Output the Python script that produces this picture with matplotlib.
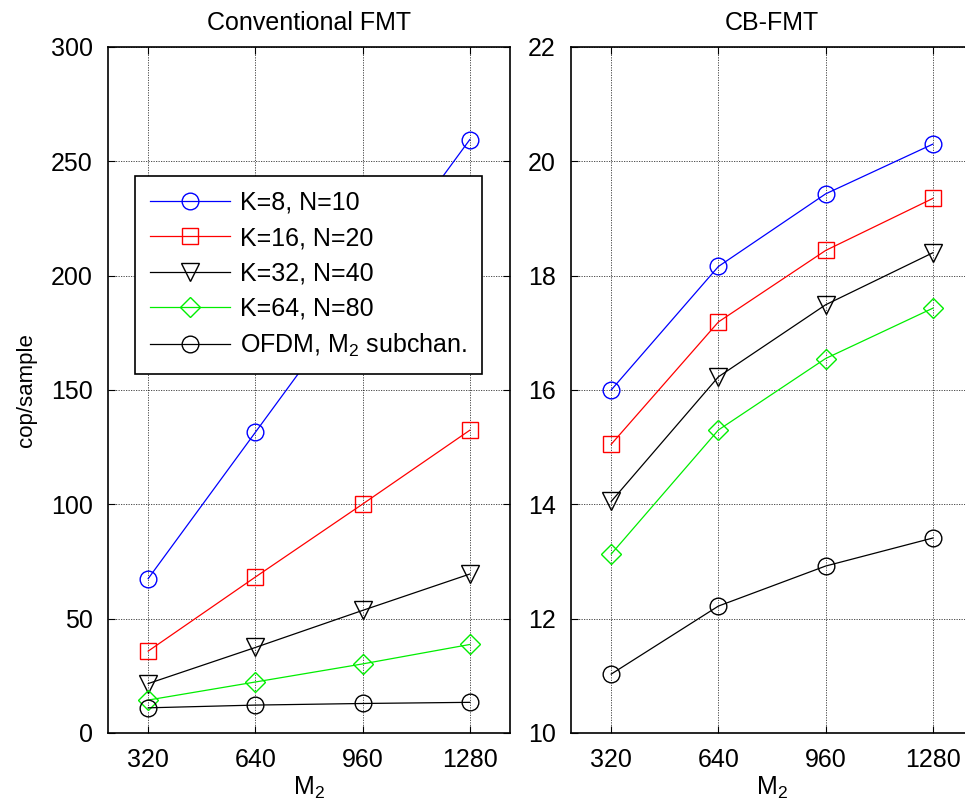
# Computational cost per sample: conventional FMT vs. CB-FMT.

import matplotlib
matplotlib.use("Agg")
import matplotlib.pyplot as plt

M2 = [320, 640, 960, 1280]
LABELS = ["K=8, N=10", "K=16, N=20", "K=32, N=40", "K=64, N=80", "OFDM, M$_2$ subchan."]

conv_k8 = [67.5, 131.5, 195.5, 259.5]
conv_k16 = [35.8, 68.2, 100.1, 132.4]
conv_k32 = [21.6, 37.4, 53.6, 69.5]
conv_k64 = [14.4, 22.3, 30.2, 38.7]
conv_ofdm = [11.0, 12.2, 12.9, 13.4]

cb_k8 = [16.0, 18.16, 19.43, 20.30]
cb_k16 = [15.05, 17.19, 18.44, 19.35]
cb_k32 = [14.05, 16.23, 17.49, 18.40]
cb_k64 = [13.13, 15.30, 16.55, 17.43]
cb_ofdm = [11.03, 12.22, 12.92, 13.41]

STYLES = [("blue", "o"), ("red", "s"), ("black", "v"), ("#00ee00", "D"), ("black", "o")]
SIZES = [12, 12, 13, 10, 12]

plt.rcParams["font.family"] = ["Liberation Sans", "DejaVu Sans"]
plt.rcParams["mathtext.default"] = "regular"


def draw(ax, series, ylim, yticks, title):
    for ys, (col, mk), ms, lab in zip(series, STYLES, SIZES, LABELS):
        ax.plot(M2, ys, color=col, marker=mk, markersize=ms,
                markerfacecolor="none", markeredgecolor=col,
                markeredgewidth=1.0, linewidth=0.9, label=lab)
    ax.set_xlim(200, 1400)
    ax.set_ylim(*ylim)
    ax.set_xticks(M2)
    ax.set_yticks(yticks)
    ax.grid(True, color="black", linestyle=(0, (1.5, 1.5)), linewidth=0.6, alpha=0.8)
    ax.tick_params(direction="in", length=5, labelsize=18, top=True, right=True, pad=11)
    for sp in ax.spines.values():
        sp.set_linewidth(1.2)
    ax.set_title(title, fontsize=18, pad=12)
    ax.set_xlabel("M$_2$", fontsize=18, labelpad=2)


fig = plt.figure(figsize=(9.65, 8.11), dpi=100)
ax1 = fig.add_axes([0.1119, 0.0962, 0.4166, 0.8459])
ax2 = fig.add_axes([571 / 965, 0.0962, 0.4166, 0.8459])

draw(ax1, [conv_k8, conv_k16, conv_k32, conv_k64, conv_ofdm],
     (0, 300), range(0, 301, 50), "Conventional FMT")
draw(ax2, [cb_k8, cb_k16, cb_k32, cb_k64, cb_ofdm],
     (10, 22), range(10, 23, 2), "CB-FMT")

ax1.set_ylabel("cop/sample", fontsize=16, labelpad=10)
leg = ax1.legend(loc="upper left", bbox_to_anchor=(0.067, 0.812), borderaxespad=0,
                 fontsize=18, fancybox=False, framealpha=1, edgecolor="black",
                 handlelength=3.2, labelspacing=0.45, borderpad=0.6, handletextpad=0.4)
leg.get_frame().set_linewidth(1.2)

fig.savefig("out.png", dpi=100)
